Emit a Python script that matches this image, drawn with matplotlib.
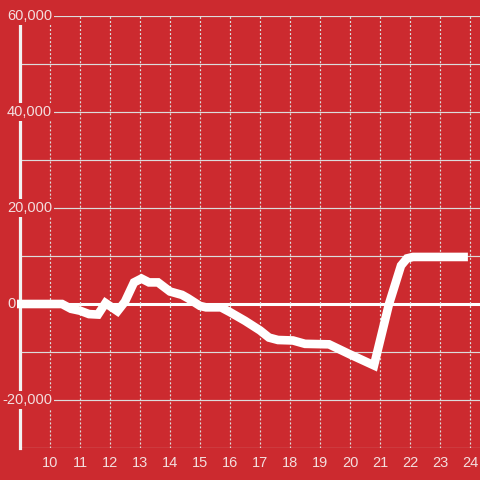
import matplotlib
matplotlib.use("Agg")
import matplotlib.pyplot as plt

# hour of day vs running total
hours = [8.9, 10.4, 10.7, 11.0, 11.3, 11.6, 11.85, 12.25, 12.5, 12.8, 13.05, 13.3,
         13.6, 14.0, 14.4, 14.6, 15.0, 15.2, 15.7, 16.0, 16.5, 17.0, 17.3, 17.6,
         18.1, 18.5, 19.3, 19.6, 20.0, 20.8, 21.3, 21.7, 21.9, 22.1, 23.93]
totals = [0, 0, -1000, -1400, -2100, -2200, 200, -1500, 500, 4500, 5300, 4500,
          4500, 2600, 1900, 1200, -400, -700, -700, -1700, -3500, -5500, -7000, -7500,
          -7600, -8300, -8400, -9300, -10500, -12800, 0, 8000, 9500, 9800, 9800]

x_ticks = list(range(10, 25))
y_ticks = [60000, 40000, 20000, 0, -20000]
y_labels = ["60,000", "40,000", "20,000", "0", "-20,000"]

bg = "#cc2a2f"
txt = "#f3dede"
grid = "#dcdcdc"

fig = plt.figure(figsize=(4.8, 4.8), dpi=100, facecolor=bg)
ax = fig.add_axes([20 / 480, 32 / 480, 460 / 480, 432 / 480])
ax.set_facecolor(bg)
ax.set_xlim(9, 9 + 460 / 30)
ax.set_ylim(-30000, 60000)

# grid
for y in range(-30000, 60001, 10000):
    if y != 0:
        ax.axhline(y, color=grid, lw=0.85, zorder=1)
ax.axhline(0, color="white", lw=2.2, zorder=1)
for x in x_ticks:
    ax.axvline(x, color=grid, lw=0.85, ls=(0, (1.7, 1.7)), zorder=1)

for s in ["top", "right", "bottom"]:
    ax.spines[s].set_visible(False)
ax.spines["left"].set_color("#f2f2f2")
ax.spines["left"].set_linewidth(2.3)
ax.spines["left"].set_bounds(-30000, 58300)
ax.spines["left"].set_zorder(2)

ax.plot(hours, totals, color="white", lw=6.2, solid_capstyle="butt",
        solid_joinstyle="miter", clip_on=False, zorder=4)

ax.set_xticks(x_ticks)
ax.set_xticklabels([str(t) for t in x_ticks])
ax.tick_params(axis="x", length=0, pad=6, labelcolor=txt, labelsize=10.5)
for lab in ax.get_xticklabels():
    lab.set_fontfamily("Liberation Sans")
ax.set_yticks([])

for v, lab in zip(y_ticks, y_labels):
    if v < 0:
        xa, ha = (52 - 20) / 460, "right"
    else:
        xa, ha = (7 - 20) / 460, "left"
    ax.text(xa, v, lab, transform=ax.get_yaxis_transform(), ha=ha, va="center",
            color=txt, fontsize=10.5, family="Liberation Sans", zorder=3,
            clip_on=False,
            bbox=dict(facecolor=bg, edgecolor="none", boxstyle="square,pad=0.15"))

fig.savefig("out.png", dpi=100, facecolor=bg)
